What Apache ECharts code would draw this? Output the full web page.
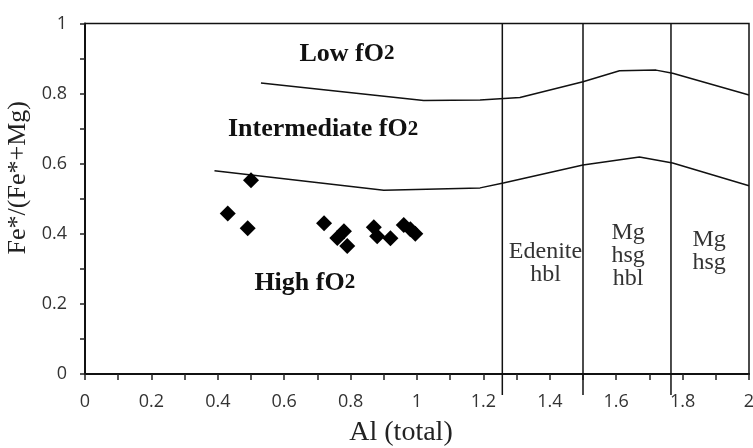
<!DOCTYPE html>
<html>
<head>
<meta charset="utf-8">
<script src="https://cdn.jsdelivr.net/npm/echarts@6/dist/echarts.min.js"></script>
<style>
  html, body { margin: 0; padding: 0; background: #fff; }
  #chart { width: 753px; height: 448px; }
</style>
</head>
<body>
<div id="chart"></div>
<script>
// Amphibole analyses: Al (total) against Fe*/(Fe*+Mg)
const sampleAl    = [0.43, 0.49, 0.50, 0.72, 0.76, 0.78, 0.79, 0.87, 0.88, 0.92, 0.96, 0.98, 0.995];
const sampleRatio = [0.458, 0.416, 0.553, 0.430, 0.388, 0.407, 0.365, 0.419, 0.393, 0.387, 0.425, 0.413, 0.400];

// fO2 field boundaries
const lowIntAl     = [0.53, 1.02, 1.19, 1.31, 1.50, 1.61, 1.72, 1.77, 2.00];
const lowIntRatio  = [0.830, 0.780, 0.782, 0.789, 0.834, 0.865, 0.867, 0.858, 0.796];
const intHighAl    = [0.39, 0.90, 1.19, 1.26, 1.50, 1.67, 1.77, 2.00];
const intHighRatio = [0.580, 0.524, 0.531, 0.545, 0.596, 0.619, 0.602, 0.537];

// Amphibole classification limits on Al (total)
const classLimits = [1.257, 1.5, 1.765];

// Tick labels
const xTickLabels = ['0', '0.2', '0.4', '0.6', '0.8', '1', '1.2', '1.4', '1.6', '1.8', '2'];
const yTickLabels = ['0', '0.2', '0.4', '0.6', '0.8', '1'];

// Field names
const fieldNames = ['Low fO', 'Intermediate fO', 'High fO'];
const classNames = ['Edenite\nhbl', 'Mg\nhsg\nhbl', 'Mg\nhsg'];

const SERIF = "'Liberation Serif', 'Times New Roman', serif";
const SANS = "'Open Sans', 'Liberation Sans', sans-serif";

const zip = (xs, ys) => xs.map((x, i) => [x, ys[i]]);

const chart = echarts.init(document.getElementById('chart'), null, { renderer: 'canvas' });

const limitSeries = classLimits.map(x => ({
  type: 'line',
  data: [[x, -0.06], [x, 1]],
  showSymbol: false,
  clip: false,
  silent: true,
  lineStyle: { color: '#111', width: 1.5 },
  z: 3
}));

chart.setOption({
  animation: false,
  backgroundColor: '#fff',
  grid: {
    left: 85, right: 4, top: 23.5, bottom: 74,
    outerBoundsMode: 'none', containLabel: false,
    show: true, borderColor: '#111', borderWidth: 1.5
  },
  xAxis: {
    type: 'value', min: 0, max: 2, interval: 0.2,
    name: 'Al (total)', nameLocation: 'middle', nameGap: 45,
    nameTextStyle: { fontFamily: SERIF, fontSize: 28, color: '#222', padding: [0, 32, 0, 0] },
    axisLine: { show: true, onZero: false, lineStyle: { color: '#111', width: 2 } },
    axisTick: { show: true, inside: false, length: 6, lineStyle: { color: '#222', width: 1.5 } },
    minorTick: { show: true, splitNumber: 2, length: 6, lineStyle: { color: '#222', width: 1.5 } },
    splitLine: { show: false },
    axisLabel: {
      margin: 19, fontFamily: SANS, fontSize: 18, color: '#333',
      formatter: v => xTickLabels[Math.round(v / 0.2)]
    }
  },
  yAxis: {
    type: 'value', min: 0, max: 1, interval: 0.2,
    name: 'Fe*/(Fe*+Mg)', nameLocation: 'middle', nameGap: 46,
    nameTextStyle: { fontFamily: SERIF, fontSize: 26, color: '#222', padding: [0, 0, 0, 42] },
    axisLine: { show: true, onZero: false, lineStyle: { color: '#111', width: 2 } },
    axisTick: { show: true, inside: false, length: 5, lineStyle: { color: '#222', width: 1.5 } },
    minorTick: { show: true, splitNumber: 2, length: 5, lineStyle: { color: '#222', width: 1.5 } },
    splitLine: { show: false },
    axisLabel: {
      margin: 18, fontFamily: SANS, fontSize: 18, color: '#333',
      formatter: v => yTickLabels[Math.round(v / 0.2)]
    }
  },
  series: [
    {
      type: 'line', data: zip(lowIntAl, lowIntRatio),
      showSymbol: false, silent: true,
      lineStyle: { color: '#111', width: 1.5 }, z: 3
    },
    {
      type: 'line', data: zip(intHighAl, intHighRatio),
      showSymbol: false, silent: true,
      lineStyle: { color: '#111', width: 1.5 }, z: 3
    },
    ...limitSeries,
    {
      type: 'scatter', data: zip(sampleAl, sampleRatio),
      symbol: 'diamond', symbolSize: 16,
      itemStyle: { color: '#000', opacity: 1 }, z: 5
    }
  ]
});

// Field and class annotations, anchored in data coordinates
const fieldAnchors = [[0.789, 0.913], [0.717, 0.698], [0.662, 0.260]];
const classAnchors = [[1.387, 0.316], [1.636, 0.338], [1.880, 0.349]];

const toPx = p => chart.convertToPixel({ gridIndex: 0 }, p);

const graphics = [];
fieldNames.forEach((name, i) => {
  const [px, py] = toPx(fieldAnchors[i]);
  graphics.push({
    type: 'text', x: px, y: py, z: 10,
    style: {
      text: '{a|' + name + '}{b|2}',
      align: 'center', verticalAlign: 'middle',
      rich: {
        a: { fontFamily: SERIF, fontWeight: 'bold', fontSize: 26, fill: '#111' },
        b: { fontFamily: SERIF, fontWeight: 'bold', fontSize: 21, fill: '#111' }
      }
    }
  });
});
classNames.forEach((name, i) => {
  const [px, py] = toPx(classAnchors[i]);
  graphics.push({
    type: 'text', x: px, y: py, z: 10,
    style: {
      text: name, align: 'center', verticalAlign: 'middle',
      fontFamily: SERIF, fontSize: 24, lineHeight: 23, fill: '#333'
    }
  });
});
chart.setOption({ graphic: graphics });
</script>
</body>
</html>
